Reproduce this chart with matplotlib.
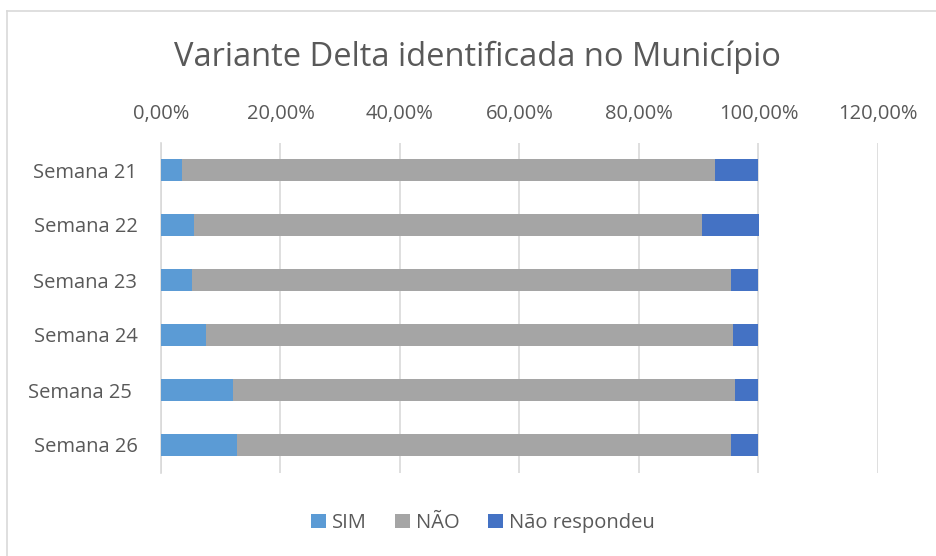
import matplotlib.pyplot as plt
from matplotlib.lines import Line2D
from matplotlib.ticker import FuncFormatter

plt.rcParams['font.family'] = ['Open Sans', 'DejaVu Sans']

# values (percent)
semanas = ['Semana 21', 'Semana 22', 'Semana 23', 'Semana 24', 'Semana 25 ', 'Semana 26']
sim = [3.56, 5.57, 5.23, 7.58, 12.04, 12.76]
nao = [89.20, 84.95, 90.25, 88.19, 84.11, 82.67]
nao_resp = [7.24, 9.48, 4.52, 4.23, 3.85, 4.57]

cores = {'SIM': '#5B9BD5', 'NÃO': '#A5A5A5', 'Não respondeu': '#4472C4'}
txt = '#595959'

fig = plt.figure(figsize=(9.37, 5.56), dpi=100)
ax = fig.add_axes([161 / 937, 1 - 472.5 / 556, (878 - 161) / 937, 330 / 556])

y = list(range(len(semanas)))
esq2 = [a + b for a, b in zip(sim, nao)]
ax.barh(y, sim, height=0.4, color=cores['SIM'], label='SIM', zorder=3)
ax.barh(y, nao, left=sim, height=0.4, color=cores['NÃO'], label='NÃO', zorder=3)
ax.barh(y, nao_resp, left=esq2, height=0.4, color=cores['Não respondeu'], label='Não respondeu', zorder=3)

ax.set_xlim(0, 120)
ax.set_ylim(len(semanas) - 0.5, -0.5)
ax.set_xticks(range(0, 121, 20))
ax.xaxis.set_major_formatter(FuncFormatter(lambda v, p: f'{v:.2f}%'.replace('.', ',')))
ax.xaxis.tick_top()
ax.set_yticks(y)
ax.set_yticklabels(semanas)
ax.tick_params(axis='both', length=0, colors=txt, labelsize=14.5)
ax.tick_params(axis='x', pad=13)
ax.tick_params(axis='y', pad=17)
ax.grid(axis='x', color='#D9D9D9', linewidth=1.2, zorder=0)
for s in ['top', 'right', 'bottom']:
    ax.spines[s].set_visible(False)
ax.spines['left'].set_color('#D9D9D9')
ax.spines['left'].set_linewidth(1.2)

fig.text(0.51, 1 - 57 / 556, 'Variante Delta identificada no Município', ha='center', va='center',
         fontsize=23.5, color=txt)

fig.legend(loc='center', bbox_to_anchor=(0.515, 1 - 523 / 556), ncol=3, frameon=False,
           fontsize=14.5, labelcolor=txt, handlelength=0.75, handleheight=0.75,
           handletextpad=0.3, columnspacing=1.4)

# chart area border (only top and left visible)
fig.add_artist(Line2D([7 / 937, 1], [1 - 11 / 556, 1 - 11 / 556], color='#D9D9D9', lw=1.2))
fig.add_artist(Line2D([7 / 937, 7 / 937], [0, 1 - 11 / 556], color='#D9D9D9', lw=1.2))

fig.savefig('out.png', dpi=100)
